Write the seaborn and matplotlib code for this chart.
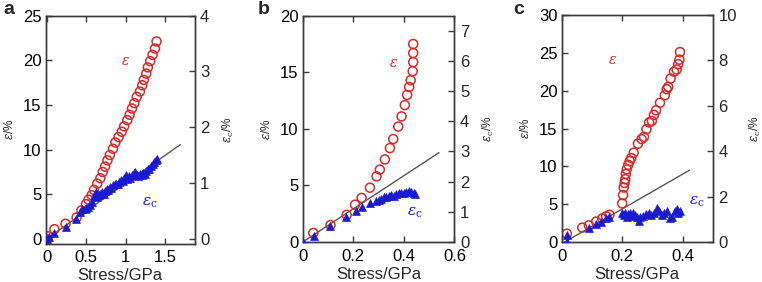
import numpy as np
import pandas as pd
import matplotlib
matplotlib.use("Agg")
import matplotlib.pyplot as plt
import seaborn as sns

# ---------------------------------------------------------------
# Daten
# ---------------------------------------------------------------

# Panel a: eps (links, %), eps_c (rechts, %)
a_eps_x = [0.00, 0.02, 0.10, 0.24, 0.38, 0.44, 0.50, 0.53, 0.57, 0.60, 0.64, 0.68,
           0.71, 0.74, 0.77, 0.80, 0.84, 0.87, 0.91, 0.95, 0.98, 1.02, 1.05, 1.08,
           1.11, 1.14, 1.18, 1.21, 1.23, 1.26, 1.28, 1.31, 1.34, 1.37, 1.39]
a_eps_y = [0.0, 0.3, 1.1, 1.7, 2.4, 3.2, 3.9, 4.4, 4.9, 5.5, 6.2, 6.8,
           7.5, 8.1, 8.8, 9.4, 10.1, 10.8, 11.4, 12.0, 12.6, 13.3, 13.9, 14.6,
           15.2, 15.9, 16.5, 17.2, 17.8, 18.5, 19.2, 19.9, 20.6, 21.3, 22.1]
a_epsc_x = [0.00, 0.03, 0.10, 0.24, 0.37, 0.42, 0.45, 0.48, 0.50, 0.53, 0.55, 0.58,
            0.60, 0.62, 0.64, 0.66, 0.68, 0.70, 0.72, 0.74, 0.76, 0.78, 0.80, 0.82,
            0.84, 0.86, 0.88, 0.90, 0.92, 0.94, 0.96, 0.98, 1.00, 1.02, 1.04, 1.06,
            1.08, 1.10, 1.12, 1.14, 1.16, 1.18, 1.20, 1.22, 1.24, 1.26, 1.28, 1.30,
            1.32, 1.34, 1.36, 1.38, 1.40]
a_epsc_y = [0.00, 0.04, 0.11, 0.21, 0.36, 0.48, 0.53, 0.54, 0.56, 0.58, 0.61, 0.67,
            0.77, 0.85, 0.75, 0.78, 0.80, 0.85, 0.80, 0.86, 0.90, 0.88, 0.93, 0.91,
            0.96, 0.98, 0.99, 0.98, 1.02, 1.06, 1.04, 1.10, 1.14, 1.07, 1.12, 1.10,
            1.15, 1.18, 1.20, 1.14, 1.12, 1.17, 1.15, 1.18, 1.17, 1.22, 1.25, 1.26,
            1.31, 1.34, 1.38, 1.41, 1.44]
a_fit_x = [0.0, 1.69]
a_fit_y = [0.0, 10.56]

# Panel b
b_eps_x = [0.042, 0.11, 0.174, 0.207, 0.233, 0.266, 0.292, 0.305, 0.325, 0.345, 0.358,
           0.378, 0.391, 0.404, 0.413, 0.421, 0.427, 0.435, 0.437, 0.437, 0.437]
b_eps_y = [0.8, 1.5, 2.4, 3.3, 3.9, 4.8, 5.8, 6.4, 7.3, 8.3, 9.1,
           10.2, 11.1, 12.1, 13.0, 13.7, 14.3, 15.1, 15.9, 16.7, 17.5]
b_epsc_x = [0.0, 0.045, 0.11, 0.17, 0.21, 0.235, 0.265, 0.29, 0.30, 0.31, 0.32, 0.33,
            0.34, 0.35, 0.36, 0.37, 0.38, 0.39, 0.40, 0.41, 0.42, 0.43, 0.44, 0.445]
b_epsc_y = [0.0, 0.2, 0.53, 0.84, 1.04, 1.17, 1.28, 1.36, 1.40, 1.42, 1.48, 1.50,
            1.52, 1.55, 1.52, 1.58, 1.62, 1.63, 1.64, 1.66, 1.68, 1.66, 1.64, 1.60]
b_fit_x = [0.0, 0.539]
b_fit_y = [0.0, 7.9]

# Panel c
c_eps_x = [0.017, 0.068, 0.09, 0.114, 0.134, 0.147, 0.158, 0.200, 0.203, 0.205, 0.208,
           0.210, 0.212, 0.215, 0.220, 0.225, 0.230, 0.238, 0.252, 0.264, 0.272, 0.280,
           0.289, 0.298, 0.305, 0.312, 0.325, 0.341, 0.347, 0.352, 0.360, 0.371, 0.380,
           0.385, 0.389, 0.391]
c_eps_y = [1.1, 1.9, 2.2, 2.7, 3.1, 3.4, 3.6, 5.1, 6.2, 7.2, 7.8,
           8.3, 9.0, 9.6, 10.2, 10.7, 11.1, 11.8, 13.0, 13.6, 13.9, 14.9,
           15.8, 16.0, 16.8, 17.4, 18.4, 19.4, 20.2, 20.5, 21.6, 22.5, 22.8,
           23.5, 24.1, 25.1]
c_epsc_x = [0.017, 0.017, 0.09, 0.114, 0.13, 0.145, 0.155, 0.200, 0.205, 0.210, 0.215,
            0.220, 0.225, 0.230, 0.236, 0.242, 0.250, 0.255, 0.260, 0.270, 0.280, 0.287,
            0.295, 0.305, 0.314, 0.320, 0.330, 0.338, 0.347, 0.357, 0.365, 0.374, 0.380,
            0.385, 0.390]
c_epsc_y = [0.0, 0.3, 0.6, 0.8, 0.9, 1.05, 1.1, 1.26, 1.2, 1.3, 1.12,
            1.22, 1.28, 1.15, 1.26, 1.2, 1.1, 0.94, 1.1, 1.14, 1.22, 1.26,
            1.2, 1.3, 1.48, 1.35, 1.19, 1.3, 1.38, 1.06, 1.1, 1.38, 1.45,
            1.26, 1.35]
c_fit_x = [0.01, 0.423]
c_fit_y = [0.0, 9.5]

panel_labels = ["a", "b", "c"]

# ---------------------------------------------------------------
# Einstellungen je Panel
# ---------------------------------------------------------------
panels = [
    dict(eps=(a_eps_x, a_eps_y), epsc=(a_epsc_x, a_epsc_y), fit=(a_fit_x, a_fit_y),
         xlim=(-0.01, 1.87), xticks=[0, 0.5, 1, 1.5], xtl=["0", "0.5", "1", "1.5"],
         ylim=(-0.5, 25), yticks=[0, 5, 10, 15, 20, 25],
         y2lim=(-0.08, 4), y2ticks=[0, 1, 2, 3, 4],
         pos=[0.060, 0.1365, 0.1953, 0.8085], lab_x=0.004,
         t_eps=(1.0, 19.9), t_epsc=(1.31, 4.1)),
    dict(eps=(b_eps_x, b_eps_y), epsc=(b_epsc_x, b_epsc_y), fit=(b_fit_x, b_fit_y),
         xlim=(0, 0.6), xticks=[0, 0.2, 0.4, 0.6], xtl=["0", "0.2", "0.4", "0.6"],
         ylim=(0, 20), yticks=[0, 5, 10, 15, 20],
         y2lim=(0, 7.5), y2ticks=[0, 1, 2, 3, 4, 5, 6, 7],
         pos=[0.3972, 0.1418, 0.1992, 0.8025], lab_x=0.338,
         t_eps=(0.357, 15.8), t_epsc=(0.444, 2.6)),
    dict(eps=(c_eps_x, c_eps_y), epsc=(c_epsc_x, c_epsc_y), fit=(c_fit_x, c_fit_y),
         xlim=(0, 0.5), xticks=[0, 0.2, 0.4], xtl=["0", "0.2", "0.4"],
         ylim=(0, 30), yticks=[0, 5, 10, 15, 20, 25, 30],
         y2lim=(0, 10), y2ticks=[0, 2, 4, 6, 8, 10],
         pos=[0.7371, 0.1418, 0.1986, 0.805], lab_x=0.673,
         t_eps=(0.168, 24.1), t_epsc=(0.447, 5.3)),
]

sns.set_style("ticks")
plt.rcParams["font.family"] = ["Liberation Sans", "DejaVu Sans"]
plt.rcParams["mathtext.fontset"] = "dejavuserif"

red = "#d42a2a"
blue = "#1a1ad0"
spine_col = "#3a3a3a"

fig = plt.figure(figsize=(7.62, 2.82), dpi=100)

for i, p in enumerate(panels):
    ax = fig.add_axes(p["pos"])
    ax2 = ax.twinx()

    fit_df = pd.DataFrame({"x": p["fit"][0], "y": p["fit"][1]})
    sns.lineplot(data=fit_df, x="x", y="y", ax=ax, color="#555555", lw=1.0, zorder=2)

    eps_df = pd.DataFrame({"x": p["eps"][0], "y": p["eps"][1]})
    sns.scatterplot(data=eps_df, x="x", y="y", ax=ax, marker="o", s=42,
                    facecolor="none", edgecolor=red, linewidth=1.1, zorder=3)

    epsc_df = pd.DataFrame({"x": p["epsc"][0], "y": p["epsc"][1]})
    sns.scatterplot(data=epsc_df, x="x", y="y", ax=ax2, marker="^", s=32,
                    color=blue, edgecolor=blue, linewidth=0.5, zorder=3)

    ax.set_xlim(*p["xlim"])
    ax.set_ylim(*p["ylim"])
    ax2.set_ylim(*p["y2lim"])
    ax.set_xticks(p["xticks"])
    ax.set_xticklabels(p["xtl"])
    ax.set_yticks(p["yticks"])
    ax2.set_yticks(p["y2ticks"])

    ax.tick_params(direction="in", length=4, width=1, top=True, right=False,
                   labelsize=12, colors="black", pad=3)
    ax.tick_params(axis="x", pad=5)
    ax2.tick_params(direction="in", length=4, width=1, labelsize=12, pad=4)
    for a_ in (ax, ax2):
        for s in a_.spines.values():
            s.set_visible(True)
            s.set_color(spine_col)
            s.set_linewidth(1.0)
    ax.tick_params(color=spine_col)
    ax2.tick_params(color=spine_col)

    ax.set_xlabel("Stress/GPa", fontsize=12, labelpad=2)
    ax.set_ylabel(r"$\varepsilon$/%", fontsize=8.5, labelpad=5)
    ax2.set_ylabel(r"$\varepsilon_{\rm c}$/%", fontsize=8.5, labelpad=8)

    ax.text(*p["t_eps"], r"$\varepsilon$", color=red, fontsize=10,
            ha="center", va="center")
    ax.text(*p["t_epsc"], r"$\varepsilon_{\rm c}$", color=blue, fontsize=11,
            ha="center", va="center")

    fig.text(p["lab_x"], 0.995, panel_labels[i], fontsize=14,
             fontweight="bold", ha="left", va="top")

fig.savefig("out.png", dpi=100)
